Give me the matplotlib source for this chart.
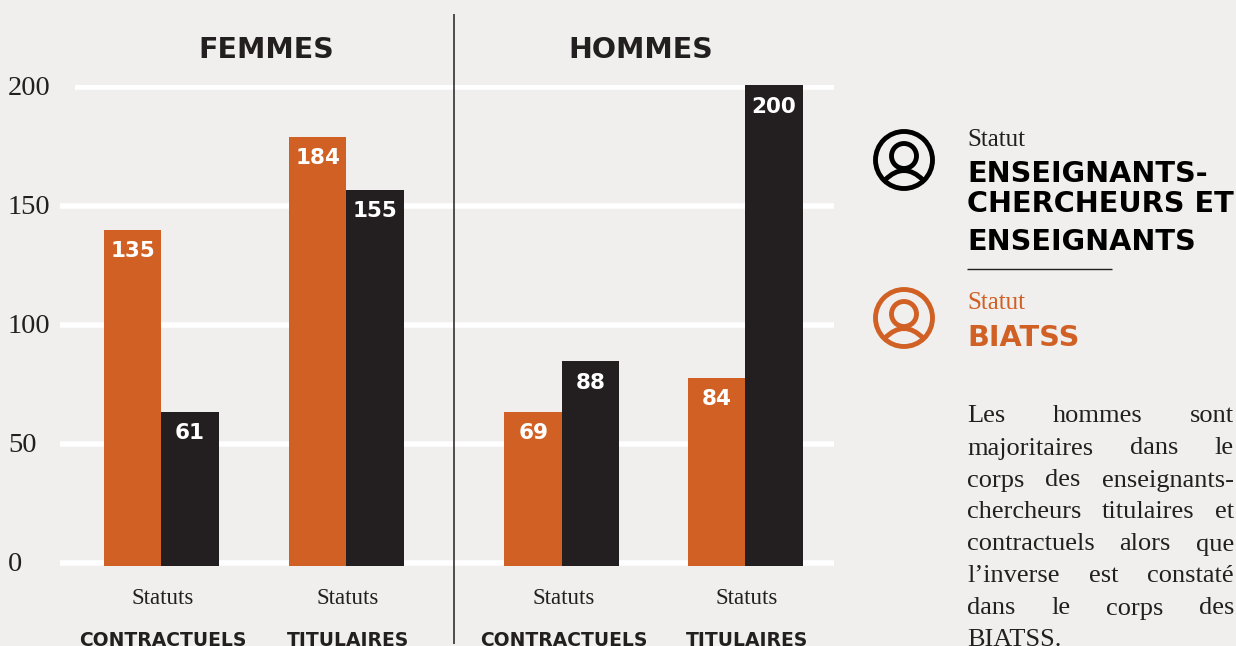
import matplotlib
matplotlib.use("Agg")
import matplotlib.pyplot as plt
from matplotlib.patches import Circle, PathPatch
from matplotlib.path import Path

# Data
group_pos = [0, 1, 2.165, 3.157]
group_labels = ["CONTRACTUELS", "TITULAIRES", "CONTRACTUELS", "TITULAIRES"]
biatss_heights = [140, 179, 63.4, 77.7]
ens_heights = [63.4, 156.7, 84.7, 200.6]
biatss_labels = ["135", "184", "69", "84"]
ens_labels = ["61", "155", "88", "200"]
y_ticks = [0, 50, 100, 150, 200]
panel_titles = ["FEMMES", "HOMMES"]
paragraph = ["Les hommes sont", "majoritaires dans le", "corps des enseignants-",
             "chercheurs titulaires et", "contractuels alors que",
             "l’inverse est constaté", "dans le corps des", "BIATSS."]

BG = "#F0EFED"; OR = "#D16024"; DK = "#231F20"
SERIF = "Liberation Serif"; SANS = "DejaVu Sans"

W, H = 1236, 646
fig = plt.figure(figsize=(W / 100, H / 100), dpi=100, facecolor=BG)

# chart axes: pixels 60..834 horizontally; 566..85 vertically
unit = 185.0
x0 = 161.0
PX = 119.0 / 50  # px per y unit
ax = fig.add_axes([60 / W, 1 - 566 / H, (834 - 60) / W, (566 - 85) / H])
ax.set_xlim((60 - x0) / unit, (834 - x0) / unit)
ax.set_ylim((562.7 - 566) / PX, (562.7 - 85) / PX)
ax.patch.set_alpha(0)
for s in ax.spines.values():
    s.set_visible(False)
ax.set_xticks([]); ax.set_yticks([])

for t in y_ticks:
    start = (75 - x0) / unit if t == 200 else ax.get_xlim()[0]
    ax.plot([start, ax.get_xlim()[1]], [t, t], color="white", lw=4, solid_capstyle="butt", zorder=1)

bw = 57.5 / unit
base = ax.get_ylim()[0]
for i, p in enumerate(group_pos):
    ax.bar(p - bw / 2, biatss_heights[i] - base, bw, bottom=base, color=OR, zorder=2, clip_on=False)
    ax.bar(p + bw / 2, ens_heights[i] - base, bw, bottom=base, color=DK, zorder=2, clip_on=False)
    ax.annotate(biatss_labels[i], (p - bw / 2, biatss_heights[i]), xytext=(0.5, -15.5),
                textcoords="offset points", ha="center", va="center", color="white",
                fontsize=15.5, fontweight="bold", family=SANS, zorder=3, annotation_clip=False)
    ax.annotate(ens_labels[i], (p + bw / 2, ens_heights[i]), xytext=(0, -15.5),
                textcoords="offset points", ha="center", va="center", color="white",
                fontsize=15.5, fontweight="bold", family=SANS, zorder=3, annotation_clip=False)

# overlay in pixel coordinates
ov = fig.add_axes([0, 0, 1, 1])
ov.set_xlim(0, W); ov.set_ylim(H, 0); ov.axis("off"); ov.patch.set_alpha(0)

ov.plot([453.5, 453.5], [14, 644], color=DK, lw=1.1, solid_capstyle="butt", zorder=5)

for title, x in zip(panel_titles, [266, 640.5]):
    ov.text(x, 50, title, ha="center", va="center", fontsize=20.5, fontweight="bold", family=SANS, color=DK)

for t in y_ticks:
    y = 562.7 - t * PX
    ov.text(8, y + 1.5, str(t), ha="left", va="center", fontsize=20.5, family=SERIF, color=DK)

for p, lab in zip(group_pos, group_labels):
    x = x0 + p * unit + 2
    ov.text(x, 599, "Statuts", ha="center", va="center", fontsize=16.5, family=SERIF, color=DK)
    ov.text(x, 640, lab, ha="center", va="center", fontsize=13.5, fontweight="bold", family=SANS,
            color=DK, clip_on=False)

def person_icon(cy, color):
    cx = 904
    ov.add_patch(Circle((cx, cy), 28.5, fill=False, ec=color, lw=3.5))
    ov.add_patch(Circle((cx, cy - 4), 12.5, fill=False, ec=color, lw=3.5))
    verts = [(cx - 19, cy + 20), (cx, cy + 1), (cx + 19, cy + 20)]
    ov.add_patch(PathPatch(Path(verts, [Path.MOVETO, Path.CURVE3, Path.CURVE3]), fill=False, ec=color, lw=3.5))

person_icon(160, "black")
person_icon(318, OR)

ov.text(967, 140, "Statut", ha="left", va="center", fontsize=18, family=SERIF, color=DK)
for y, s in [(173.5, "ENSEIGNANTS-"), (203.5, "CHERCHEURS ET"), (241.5, "ENSEIGNANTS")]:
    ov.text(967, y, s, ha="left", va="center", fontsize=20.7, fontweight="bold", family=SANS, color="black")
ov.plot([967, 1112], [268.5, 268.5], color=DK, lw=1, solid_capstyle="butt")
ov.text(967, 303, "Statut", ha="left", va="center", fontsize=18, family=SERIF, color=OR)
ov.text(967, 337.5, "BIATSS", ha="left", va="center", fontsize=20.7, fontweight="bold", family=SANS, color=OR)

# justified paragraph
fig.canvas.draw()
rend = fig.canvas.get_renderer()
L, R = 967, 1234
for i, line in enumerate(paragraph):
    y = 416.5 + i * 32
    words = line.split(" ")
    arts = [ov.text(L, y, w, ha="left", va="center", fontsize=19, family=SERIF, color=DK) for w in words]
    widths = [a.get_window_extent(rend).width for a in arts]
    if i < len(paragraph) - 1 and len(words) > 1:
        gap = (R - L - sum(widths)) / (len(words) - 1)
        x = L
        for a, w in zip(arts, widths):
            a.set_x(x)
            x += w + gap

fig.savefig("out.png", dpi=100, facecolor=BG)
